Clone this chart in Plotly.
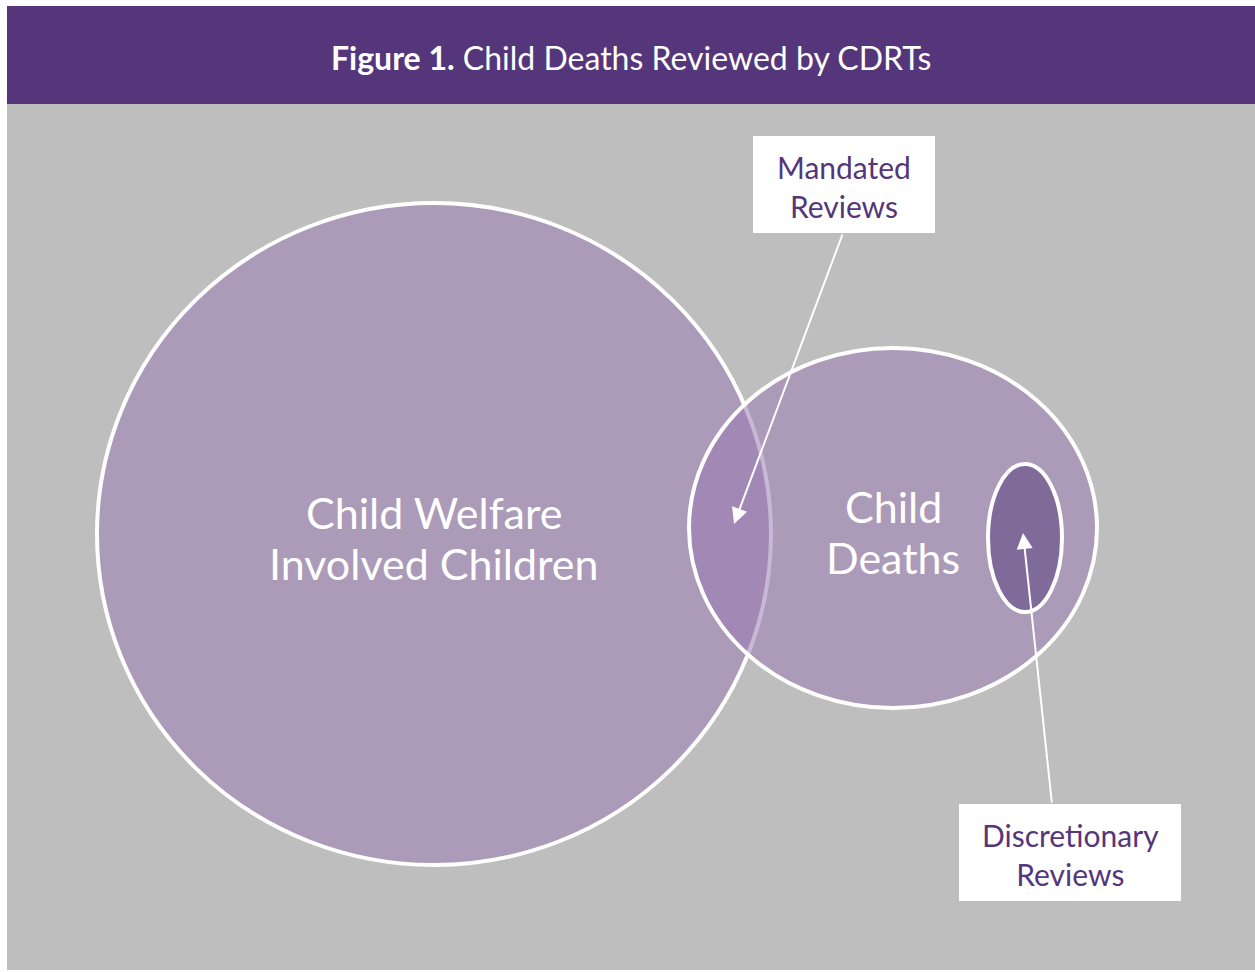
import plotly.graph_objects as go

# ---- data ----
title_bold = "Figure 1."
title_rest = " Child Deaths Reviewed by CDRTs"

set_labels = ["Child Welfare<br>Involved Children", "Child<br>Deaths", ""]
set_cx = [434, 893, 1025]
set_cy = [534, 528, 538]
set_rx = [337, 204, 37]
set_ry = [331, 180, 74]
set_fill = ["rgba(154,124,179,0.55)", "rgba(154,124,179,0.55)", "#7F6A9A"]
label_line1_y = [512, 506]
label_line_gap = 51

callout_labels = ["Mandated<br>Reviews", "Discretionary<br>Reviews"]
box_x0 = [753, 959]
box_x1 = [935, 1181]
box_y0 = [136, 804]
box_y1 = [233, 901]
arrow_from_x = [843, 1052]
arrow_from_y = [233, 804]
arrow_to_x = [734, 1023]
arrow_to_y = [524, 533]

W, H = 1255, 972
PURPLE = "#55367A"
GRAY = "#BEBEBE"
FONT = "Lato"

fig = go.Figure()
fig.add_trace(go.Scatter(x=[0], y=[0], mode="markers", marker=dict(opacity=0), hoverinfo="skip", showlegend=False))

shapes = []
shapes.append(dict(type="rect", x0=7, x1=W, y0=104, y1=970, fillcolor=GRAY, line=dict(width=0), layer="below"))
shapes.append(dict(type="rect", x0=7, x1=W, y0=6, y1=104, fillcolor=PURPLE, line=dict(width=0), layer="below"))

for cx, cy, rx, ry, fc in zip(set_cx, set_cy, set_rx, set_ry, set_fill):
    shapes.append(dict(type="circle", x0=cx - rx, x1=cx + rx, y0=cy - ry, y1=cy + ry,
                       fillcolor=fc, line=dict(color="white", width=4), layer="above"))

for x0, x1, y0, y1 in zip(box_x0, box_x1, box_y0, box_y1):
    shapes.append(dict(type="rect", x0=x0, x1=x1, y0=y0, y1=y1, fillcolor="white",
                       line=dict(width=0), layer="above"))

annotations = []
annotations.append(dict(x=631, y=57, text=f"<b>{title_bold}</b>{title_rest}", showarrow=False,
                        font=dict(family=FONT, size=32, color="white"), xanchor="center", yanchor="middle"))

for lab, cx, y1 in zip(set_labels[:2], set_cx[:2], label_line1_y):
    for i, line in enumerate(lab.split("<br>")):
        annotations.append(dict(x=cx, y=y1 + i * label_line_gap, text=line, showarrow=False,
                                font=dict(family=FONT, size=43, color="white"),
                                xanchor="center", yanchor="middle"))

for lab, x0, x1, y0, y1 in zip(callout_labels, box_x0, box_x1, box_y0, box_y1):
    annotations.append(dict(x=(x0 + x1) / 2, y=(y0 + y1) / 2 + 2, text=lab, showarrow=False,
                            font=dict(family=FONT, size=30, color=PURPLE), xanchor="center", yanchor="middle"))

for fx, fy, tx, ty in zip(arrow_from_x, arrow_from_y, arrow_to_x, arrow_to_y):
    annotations.append(dict(x=tx, y=ty, ax=fx, ay=fy, axref="x", ayref="y", xref="x", yref="y",
                            text="", showarrow=True, arrowhead=2, arrowsize=1.6, arrowwidth=2,
                            arrowcolor="white", standoff=0))

fig.update_layout(
    width=W, height=H, margin=dict(l=0, r=0, t=0, b=0),
    paper_bgcolor="white", plot_bgcolor="white",
    xaxis=dict(range=[0, W], visible=False, fixedrange=True),
    yaxis=dict(range=[H, 0], visible=False, fixedrange=True),
    shapes=shapes, annotations=annotations, showlegend=False,
)

fig.write_html("out.html", config={"displayModeBar": False},
               post_script="document.body.style.margin='0';document.body.style.overflow='hidden';")
